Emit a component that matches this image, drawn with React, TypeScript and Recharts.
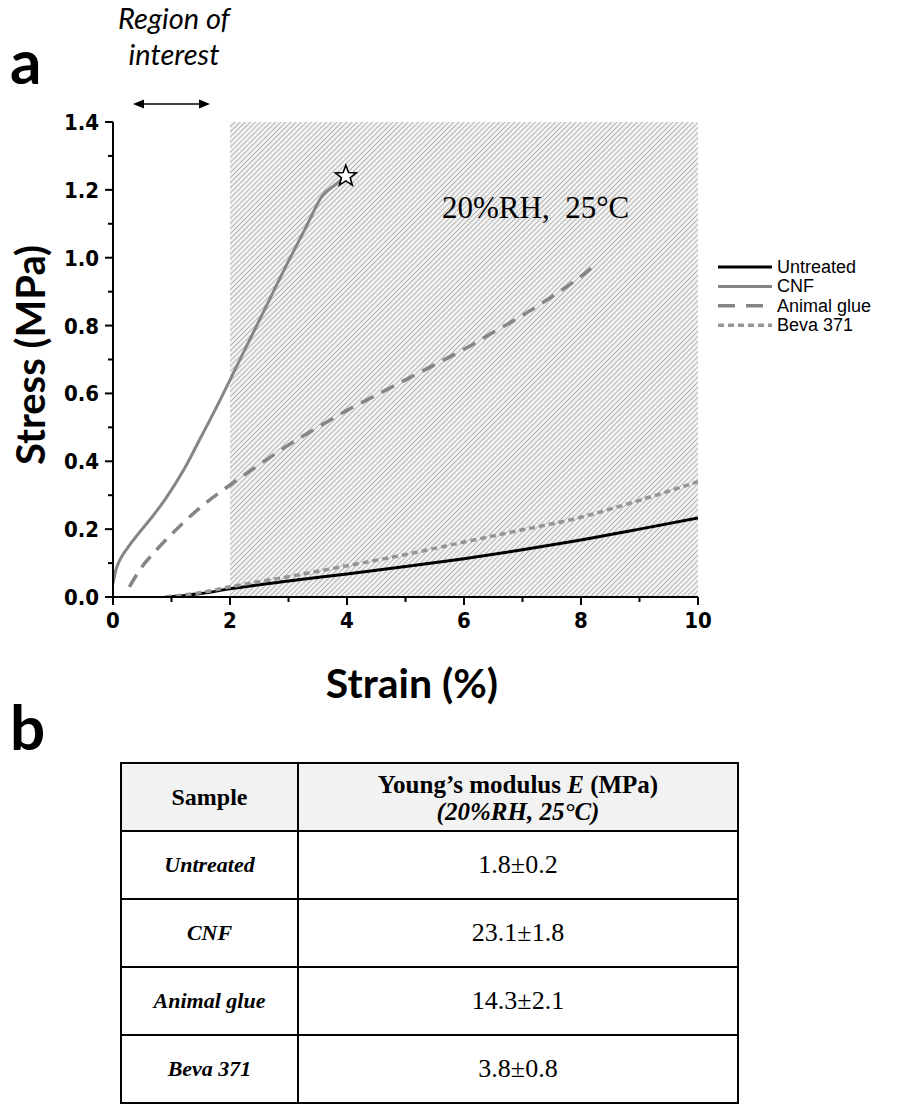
import React from "react";
import { LineChart, Line, XAxis, YAxis, ReferenceArea, ReferenceDot } from "recharts";

// strain (%) / stress (MPa)
const untreatedStrain = [0.9, 1.2, 1.5, 2, 3, 4, 5, 6, 7, 8, 9, 10];
const untreatedStress = [0, 0.004, 0.01, 0.024, 0.047, 0.068, 0.09, 0.113, 0.139, 0.168, 0.2, 0.233];

const cnfStrain = [0, 0.05, 0.12, 0.25, 0.45, 0.65, 0.9, 1.2, 1.5, 1.8, 2.0, 2.5, 3.0, 3.3, 3.58, 3.8, 3.98];
const cnfStress = [0.04, 0.08, 0.11, 0.145, 0.19, 0.232, 0.29, 0.372, 0.47, 0.57, 0.64, 0.815, 0.99, 1.09, 1.183, 1.215, 1.24];

const glueStrain = [0.28, 0.5, 0.75, 1.0, 1.5, 2.0, 2.5, 3.0, 3.5, 4.0, 4.5, 5.0, 5.5, 6.0, 6.5, 7.0, 7.5, 8.0, 8.22];
const glueStress = [0.03, 0.09, 0.14, 0.185, 0.265, 0.33, 0.39, 0.448, 0.5, 0.55, 0.595, 0.64, 0.685, 0.73, 0.78, 0.83, 0.885, 0.945, 0.975];

const bevaStrain = [0.9, 1.0, 1.5, 2, 3, 4, 5, 6, 7, 8, 9, 10];
const bevaStress = [0, 0.002, 0.013, 0.03, 0.06, 0.092, 0.125, 0.162, 0.198, 0.235, 0.285, 0.34];

const failurePoint = { x: 3.98, y: 1.24 };
const roiRange = [2, 10];

const xTicks = [0, 1, 2, 3, 4, 5, 6, 7, 8, 9, 10];
const yTicks = [0, 0.1, 0.2, 0.3, 0.4, 0.5, 0.6, 0.7, 0.8, 0.9, 1.0, 1.1, 1.2, 1.3, 1.4];

const tableHead = ["Sample", "Young’s modulus", "(20%RH, 25°C)"];
const sampleNames = ["Untreated", "CNF", "Animal glue", "Beva 371"];
const modulusValues = ["1.8±0.2", "23.1±1.8", "14.3±2.1", "3.8±0.8"];

const toPts = (xs: number[], ys: number[]) => xs.map((x, i) => ({ x, y: ys[i] }));

const series = [
  { name: "Untreated", data: toPts(untreatedStrain, untreatedStress), color: "#000000", width: 3, dash: undefined, legendDash: undefined },
  { name: "CNF", data: toPts(cnfStrain, cnfStress), color: "#858585", width: 3, dash: undefined, legendDash: undefined },
  { name: "Animal glue", data: toPts(glueStrain, glueStress), color: "#858585", width: 3.5, dash: "14 9", legendDash: "17 11" },
  { name: "Beva 371", data: toPts(bevaStrain, bevaStress), color: "#959595", width: 3.5, dash: "6 4", legendDash: "6 4" },
];

const tickFont = "'Liberation Sans Narrow', 'Arial Narrow', 'DejaVu Sans Condensed', Arial, sans-serif";
const titleFont = "Lato, 'Open Sans', sans-serif";
const serif = "'Liberation Serif', 'Times New Roman', serif";

const XTick = (p: any) => {
  const v = p.payload.value;
  const major = v % 2 === 0;
  return (
    <g>
      <line x1={p.x} x2={p.x} y1={p.y} y2={p.y + (major ? 8 : 5)} stroke="#000" strokeWidth={2} />
      {major && (
        <text x={p.x} y={p.y + 31} textAnchor="middle" fontFamily={tickFont} fontWeight="bold" fontSize={22} fill="#000">
          {v}
        </text>
      )}
    </g>
  );
};

const YTick = (p: any) => {
  const v = p.payload.value;
  const major = Math.round(v * 10) % 2 === 0;
  return (
    <g>
      <line x1={p.x} x2={p.x - (major ? 8 : 5)} y1={p.y} y2={p.y} stroke="#000" strokeWidth={2} />
      {major && (
        <text x={p.x - 14} y={p.y + 8} textAnchor="end" fontFamily={tickFont} fontWeight="bold" fontSize={22} fill="#000">
          {v.toFixed(1)}
        </text>
      )}
    </g>
  );
};

const Star = (p: any) => {
  const { cx, cy } = p;
  const pts: string[] = [];
  for (let i = 0; i < 10; i++) {
    const r = i % 2 === 0 ? 11 : 4.6;
    const a = -Math.PI / 2 + (i * Math.PI) / 5;
    pts.push(`${cx + r * Math.cos(a)},${cy + r * Math.sin(a)}`);
  }
  return <polygon points={pts.join(" ")} fill="#fff" stroke="#000" strokeWidth={1.6} />;
};

const cell = { border: "2px solid #000", padding: 0 };

export default function App() {
  return (
    <div style={{ position: "absolute", left: 0, top: 0, width: 898, height: 1108, background: "#fff" }}>
      <LineChart width={898} height={720} margin={{ top: 122, right: 200, bottom: 83, left: 0 }}>
        <defs>
          <pattern id="hatch" width="3.6" height="3.6" patternUnits="userSpaceOnUse" patternTransform="rotate(45)">
            <rect width="3.6" height="3.6" fill="#f2f2f2" />
            <line x1="0" y1="0" x2="0" y2="3.6" stroke="#a8a8a8" strokeWidth="1.6" />
          </pattern>
        </defs>
        <ReferenceArea x1={roiRange[0]} x2={roiRange[1]} y1={0} y2={1.4} fill="url(#hatch)" fillOpacity={1} stroke="none" />
        <XAxis
          dataKey="x"
          type="number"
          domain={[0, 10]}
          ticks={xTicks}
          interval={0}
          height={40}
          tickSize={0}
          tickMargin={0}
          tick={XTick}
          tickLine={false}
          axisLine={{ stroke: "#000", strokeWidth: 2 }}
          allowDataOverflow
        />
        <YAxis
          type="number"
          domain={[0, 1.4]}
          ticks={yTicks}
          interval={0}
          width={113}
          tickSize={0}
          tickMargin={0}
          tick={YTick}
          tickLine={false}
          axisLine={{ stroke: "#000", strokeWidth: 2 }}
          allowDataOverflow
        />
        {series.map((s) => (
          <Line
            key={s.name}
            data={s.data}
            dataKey="y"
            name={s.name}
            type="monotone"
            stroke={s.color}
            strokeWidth={s.width}
            strokeDasharray={s.dash}
            dot={false}
            activeDot={false}
            isAnimationActive={false}
          />
        ))}
        <ReferenceDot x={failurePoint.x} y={failurePoint.y} r={11} shape={Star} />
      </LineChart>

      <svg width={898} height={1108} style={{ position: "absolute", left: 0, top: 0, pointerEvents: "none" }}>
        <text x={10} y={84} fontFamily={titleFont} fontWeight="bold" fontSize={62} fill="#000">a</text>
        <text x={174} y={29} textAnchor="middle" fontFamily={titleFont} fontStyle="italic" fontSize={29} fill="#000">Region of</text>
        <text x={174} y={65} textAnchor="middle" fontFamily={titleFont} fontStyle="italic" fontSize={29} fill="#000">interest</text>
        <line x1={140} x2={203} y1={104} y2={104} stroke="#000" strokeWidth={1.5} />
        <polygon points="133,104 144,99.5 144,108.5" fill="#000" />
        <polygon points="210,104 199,99.5 199,108.5" fill="#000" />
        <text x={442} y={218} fontFamily={serif} fontSize={31} fill="#000" style={{ whiteSpace: "pre" }}>20%RH,  25°C</text>
        <text
          x={0}
          y={0}
          transform="translate(45,355) rotate(-90)"
          textAnchor="middle"
          fontFamily={titleFont}
          fontWeight="bold"
          fontSize={40}
          fill="#000"
        >
          Stress (MPa)
        </text>
        <text x={412} y={698} textAnchor="middle" fontFamily={titleFont} fontWeight="bold" fontSize={41} fill="#000">
          Strain (%)
        </text>
        {series.map((s, i) => {
          const y = 267 + i * 19.4;
          return (
            <g key={s.name}>
              <line x1={718} x2={772} y1={y} y2={y} stroke={s.color} strokeWidth={s.width} strokeDasharray={s.legendDash} />
              <text x={777} y={y + 6} fontFamily="'Liberation Sans', Arial, sans-serif" fontSize={18} fill="#000">{s.name}</text>
            </g>
          );
        })}
        <text x={10} y={750} fontFamily={titleFont} fontWeight="bold" fontSize={62} fill="#000">b</text>
      </svg>

      <table
        style={{
          position: "absolute",
          left: 120,
          top: 762,
          width: 619,
          borderCollapse: "collapse",
          fontFamily: serif,
          color: "#000",
          textAlign: "center",
        }}
      >
        <tbody>
          <tr style={{ height: 68, background: "#f2f2f2" }}>
            <td style={{ ...cell, width: 175, fontWeight: "bold", fontSize: 24 }}>{tableHead[0]}</td>
            <td style={{ ...cell, fontWeight: "bold", fontSize: 25, lineHeight: "27px", paddingTop: 2 }}>
              {tableHead[1]} <i>E</i> (MPa)
              <br />
              <i>{tableHead[2]}</i>
            </td>
          </tr>
          {sampleNames.map((n, i) => (
            <tr key={n} style={{ height: 68 }}>
              <td style={{ ...cell, fontWeight: "bold", fontStyle: "italic", fontSize: 22 }}>{n}</td>
              <td style={{ ...cell, fontSize: 26 }}>{modulusValues[i]}</td>
            </tr>
          ))}
        </tbody>
      </table>
    </div>
  );
}
